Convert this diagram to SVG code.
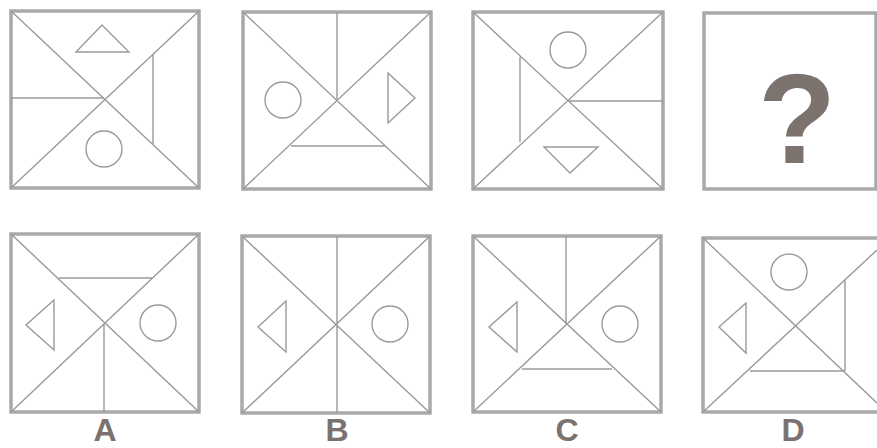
<svg xmlns="http://www.w3.org/2000/svg" width="877" height="448" viewBox="0 0 877 448">
<style>
.frame{fill:none;stroke:#a9a9a9;stroke-width:3.5}
.ln{fill:none;stroke:#9a9a9a;stroke-width:1.4}
.lbl{font-family:"Liberation Sans",Arial,sans-serif;font-weight:bold;font-size:32px;fill:#7b716e;text-anchor:middle}
</style>
<rect width="877" height="448" fill="#ffffff"/>
<g id="q1">
<rect class="frame" x="11" y="11" width="188" height="177"/>
<path class="ln" d="M11,11 L199,188 M199,11 L11,188 M11,98 L104,98 M153,55 L153,144"/>
<polygon class="ln" points="102,25 76,52 129,52"/>
<circle class="ln" cx="104" cy="149" r="18"/>
</g>
<g id="q2">
<rect class="frame" x="243" y="12" width="188" height="177"/>
<path class="ln" d="M243,12 L431,189 M431,12 L243,189 M337,12 L337,99 M291,146 L385,146"/>
<circle class="ln" cx="283" cy="100" r="18"/>
<polygon class="ln" points="388,73 415,98 388,123"/>
</g>
<g id="q3">
<rect class="frame" x="473" y="12" width="190" height="177"/>
<path class="ln" d="M473,12 L663,189 M663,12 L473,189 M520,57 L520,142 M569,101 L663,101"/>
<circle class="ln" cx="568" cy="50" r="18"/>
<polygon class="ln" points="544,147 598,147 570,173"/>
</g>
<g id="q4">
<rect class="frame" x="704" y="13" width="172" height="176"/>
<text x="797" y="163" font-family="'Liberation Sans',Arial,sans-serif" font-weight="bold" font-size="128" fill="#7d736e" text-anchor="middle">?</text>
</g>
<g id="optA">
<rect class="frame" x="11" y="234" width="188" height="178"/>
<path class="ln" d="M11,234 L199,412 M199,234 L11,412 M59,278 L152,278 M104,324 L104,412"/>
<polygon class="ln" points="54,300 26,325 54,350"/>
<circle class="ln" cx="158" cy="323" r="18"/>
<text class="lbl" x="105" y="441">A</text>
</g>
<g id="optB">
<rect class="frame" x="242" y="236" width="188" height="177"/>
<path class="ln" d="M242,236 L430,413 M430,236 L242,413 M337,236 L337,413"/>
<polygon class="ln" points="286,301 258,327 286,352"/>
<circle class="ln" cx="390" cy="324" r="18"/>
<text class="lbl" x="337" y="441">B</text>
</g>
<g id="optC">
<rect class="frame" x="473" y="236" width="188" height="176"/>
<path class="ln" d="M473,236 L661,412 M661,236 L473,412 M566,236 L566,324 M522,369 L612,369"/>
<polygon class="ln" points="517,302 489,327 517,352"/>
<circle class="ln" cx="620" cy="324" r="18"/>
<text class="lbl" x="567" y="441">C</text>
</g>
<g id="optD">
<path class="frame" d="M879,238 L703,238 L703,412 L879,412"/>
<path class="ln" d="M703,238 L877,403 M703,412 L877,250 M845,281 L845,371 M750,371 L845,371"/>
<circle class="ln" cx="789" cy="272" r="18"/>
<polygon class="ln" points="746,303 719,327 746,353"/>
<text class="lbl" x="793" y="441">D</text>
</g>
</svg>
